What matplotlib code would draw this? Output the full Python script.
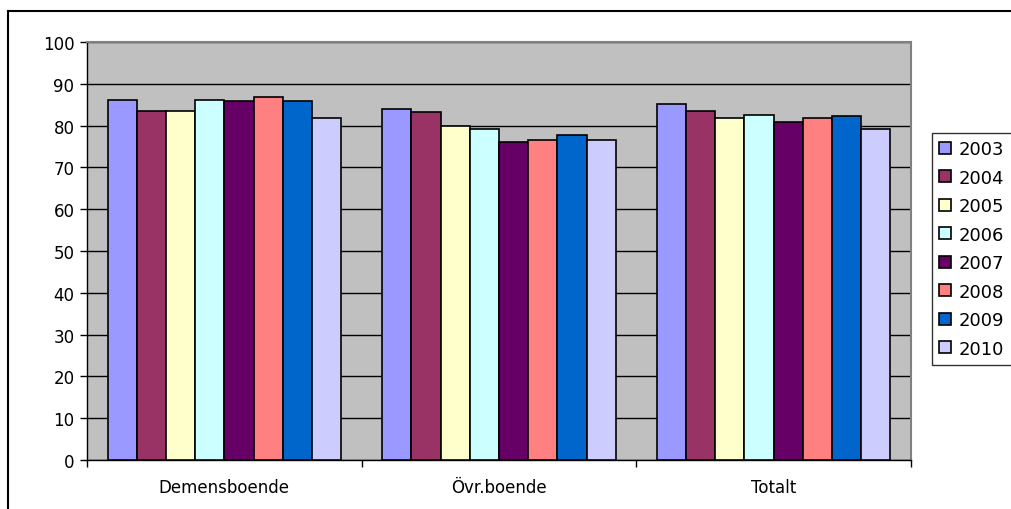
import matplotlib
matplotlib.use('Agg')
import matplotlib.pyplot as plt
import numpy as np
from matplotlib.lines import Line2D

categories = ['Demensboende', 'Övr.boende', 'Totalt']
years = ['2003', '2004', '2005', '2006', '2007', '2008', '2009', '2010']
values = {
    '2003': [86.2, 84.0, 85.2],
    '2004': [83.6, 83.3, 83.6],
    '2005': [83.6, 80.0, 81.7],
    '2006': [86.2, 79.2, 82.5],
    '2007': [85.8, 76.0, 80.8],
    '2008': [86.9, 76.6, 81.7],
    '2009': [85.8, 77.8, 82.2],
    '2010': [81.7, 76.6, 79.3],
}
colors = ['#9999FF', '#993366', '#FFFFCC', '#CCFFFF', '#660066', '#FF8080', '#0066CC', '#CCCCFF']

plt.rcParams['font.family'] = ['DejaVu Sans']

fig = plt.figure(figsize=(10.11, 5.10), dpi=100)
ax = fig.add_axes([87 / 1011, 49 / 510, 824 / 1011, 418 / 510])
ax.set_facecolor('#C0C0C0')

# outer chart border: only left and top edges are inside the canvas
x0, y0 = 7.5 / 1011, 1 - 12 / 510
fig.lines.append(Line2D([x0, x0], [-0.05, y0], transform=fig.transFigure,
                        color='black', linewidth=1.5))
fig.lines.append(Line2D([x0, 1.05], [y0, y0], transform=fig.transFigure,
                        color='black', linewidth=1.5))

index = np.arange(len(categories))
bw = 0.85 / len(years)
for i, (yr, c) in enumerate(zip(years, colors)):
    xs = index - 0.425 + bw * (i + 0.5)
    ax.bar(xs, values[yr], width=bw, color=c, edgecolor='black', linewidth=1.2,
           label=yr, zorder=3)

ax.set_xlim(-0.5, len(categories) - 0.5)
ax.set_ylim(0, 100)
ax.set_yticks(range(0, 101, 10))
ax.yaxis.grid(True, color='black', linewidth=1.0, zorder=1)
ax.set_axisbelow(True)

ax.set_xticks(index)
ax.set_xticklabels(categories, fontsize=12)
ax.set_xticks(np.arange(-0.5, len(categories), 1), minor=True)
ax.tick_params(axis='x', which='major', length=0, pad=13)
ax.tick_params(axis='x', which='minor', length=5, width=1, direction='out')
ax.tick_params(axis='y', length=5, width=1, direction='out', labelsize=12, pad=4)

for side in ['top', 'right']:
    ax.spines[side].set_color('#808080')
    ax.spines[side].set_linewidth(1.5)
for side in ['left', 'bottom']:
    ax.spines[side].set_color('black')
    ax.spines[side].set_linewidth(1.0)

leg = ax.legend(loc='upper left', bbox_to_anchor=(932 / 1011, 376 / 510),
                bbox_transform=fig.transFigure, fontsize=13, frameon=True,
                fancybox=False, edgecolor='black', borderpad=0.4,
                handlelength=0.65, handleheight=0.65, handletextpad=0.45,
                labelspacing=0.58, borderaxespad=0)
leg.get_frame().set_linewidth(1.0)

fig.savefig('out.png', dpi=100)
